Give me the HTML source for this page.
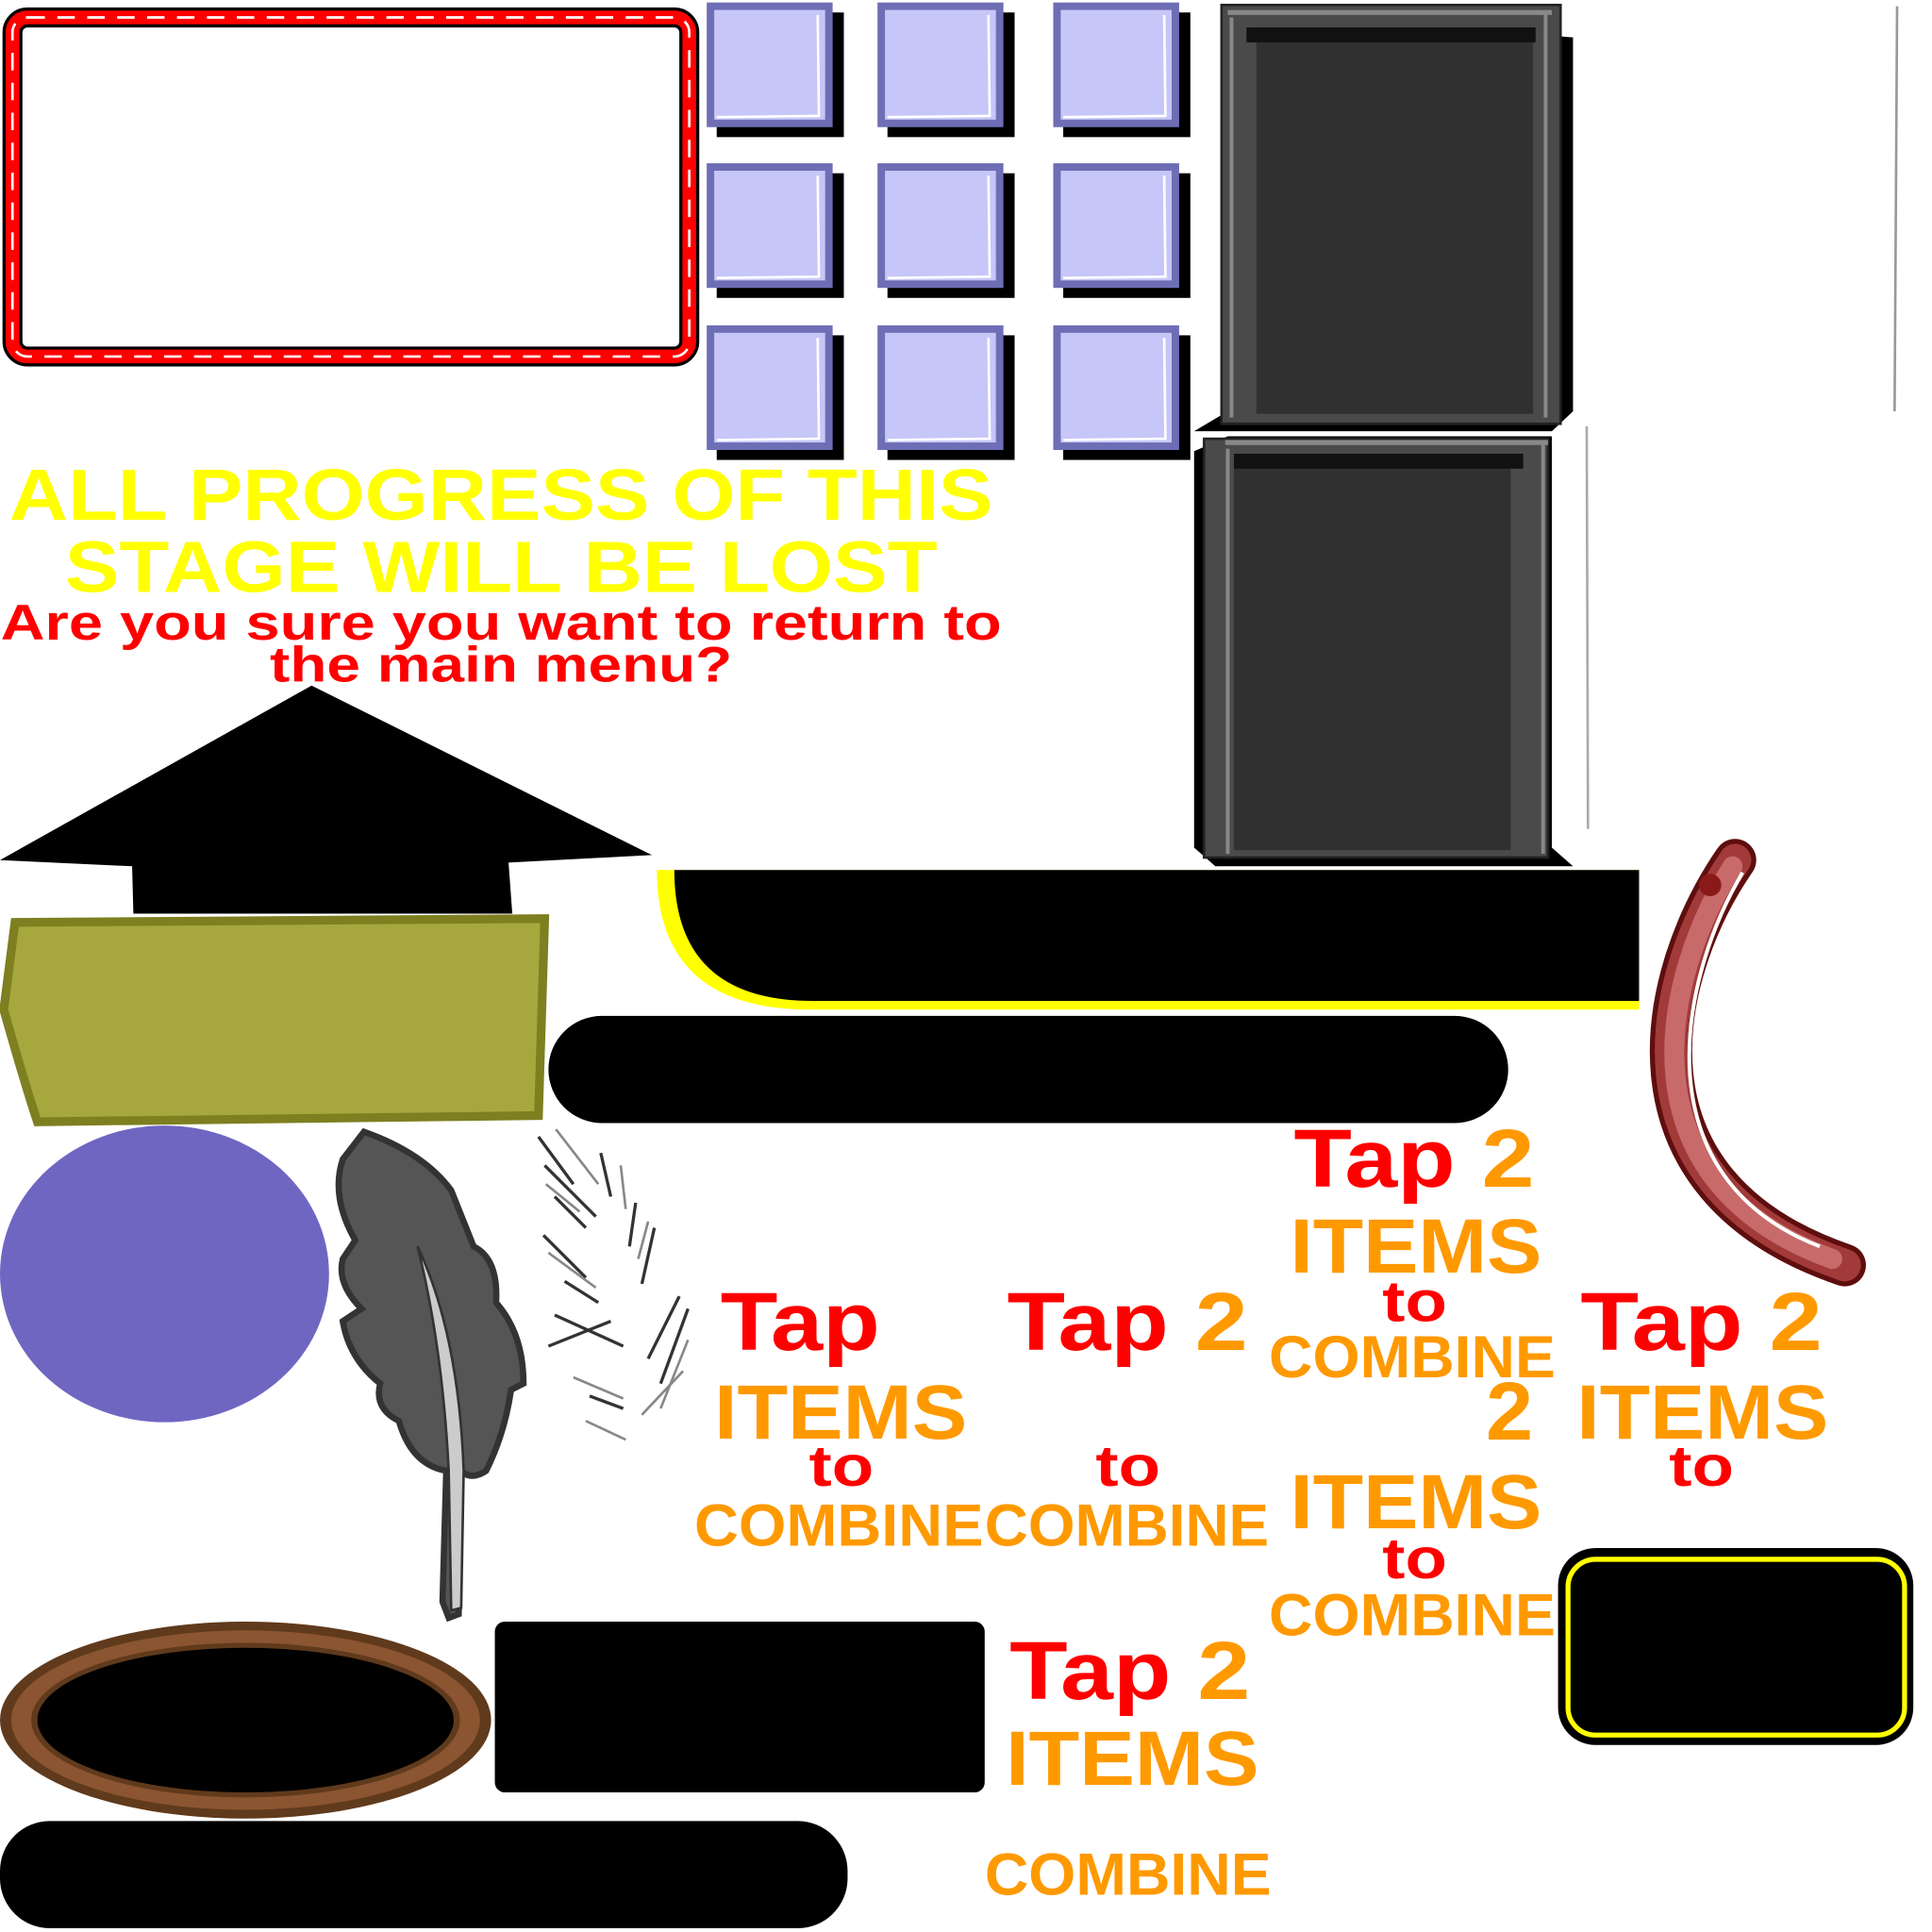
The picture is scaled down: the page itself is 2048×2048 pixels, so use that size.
<!DOCTYPE html>
<html><head><meta charset="utf-8"><style>
html,body{margin:0;padding:0;background:#fff;width:2048px;height:2048px;overflow:hidden}
svg{display:block}
text{font-family:"Liberation Sans",Arial,sans-serif;font-weight:bold}
</style></head><body>
<svg width="2048" height="2048" viewBox="0 0 1550 1550" xmlns="http://www.w3.org/2000/svg">
<defs>
<g id="sq">
<rect x="8" y="8" width="102" height="100" fill="#000"/>
<rect x="3" y="3" width="95" height="94" fill="#c6c6f8" stroke="#6e6eb6" stroke-width="6"/>
<polyline points="8,92 90,91 89,10" fill="none" stroke="#fff" stroke-width="2"/>
</g>
</defs>
<!-- rope frame -->
<rect x="10" y="14" width="543" height="272" rx="12" fill="none" stroke="#000" stroke-width="16"/>
<rect x="10" y="14" width="543" height="272" rx="12" fill="none" stroke="#ff0000" stroke-width="11"/>
<rect x="10" y="14" width="543" height="272" rx="12" fill="none" stroke="#fff" stroke-width="2" stroke-dasharray="14 10"/>
<!-- squares -->
<use href="#sq" x="567" y="2"/><use href="#sq" x="704" y="2"/><use href="#sq" x="845" y="2"/>
<use href="#sq" x="567" y="131"/><use href="#sq" x="704" y="131"/><use href="#sq" x="845" y="131"/>
<use href="#sq" x="567" y="261"/><use href="#sq" x="704" y="261"/><use href="#sq" x="845" y="261"/>
<!-- dark panels -->
<polygon points="985,8 1262,30 1262,330 1245,346 958,346 985,330" fill="#000"/>
<rect x="980" y="4" width="272" height="336" fill="#4a4a4a" stroke="#222" stroke-width="2"/>
<rect x="1008" y="22" width="222" height="310" fill="#303030"/>
<rect x="1000" y="22" width="232" height="12" fill="#111"/>
<line x1="988" y1="14" x2="988" y2="335" stroke="#888" stroke-width="3"/>
<line x1="1240" y1="10" x2="1240" y2="335" stroke="#888" stroke-width="3"/>
<line x1="985" y1="10" x2="1245" y2="10" stroke="#888" stroke-width="4"/>
<polygon points="958,362 985,350 1245,350 1245,680 1262,695 975,695 958,680" fill="#000"/>
<rect x="966" y="352" width="276" height="336" fill="#4a4a4a" stroke="#222" stroke-width="2"/>
<rect x="990" y="372" width="222" height="310" fill="#303030"/>
<rect x="990" y="364" width="232" height="12" fill="#111"/>
<line x1="985" y1="360" x2="985" y2="685" stroke="#888" stroke-width="3"/>
<line x1="1238" y1="356" x2="1238" y2="685" stroke="#888" stroke-width="3"/>
<line x1="983" y1="355" x2="1242" y2="355" stroke="#888" stroke-width="4"/>
<line x1="1522" y1="5" x2="1520" y2="330" stroke="#999" stroke-width="2"/>
<line x1="1273" y1="342" x2="1274" y2="665" stroke="#aaa" stroke-width="2"/>
<!-- headline -->
<text x="402" y="417" text-anchor="middle" font-size="58" fill="#ffff00" textLength="789" lengthAdjust="spacingAndGlyphs">ALL PROGRESS OF THIS</text>
<text x="402" y="475" text-anchor="middle" font-size="58" fill="#ffff00" textLength="700" lengthAdjust="spacingAndGlyphs">STAGE WILL BE LOST</text>
<text x="402" y="513" text-anchor="middle" font-size="40" fill="#ff0000" textLength="803" lengthAdjust="spacingAndGlyphs">Are you sure you want to return to</text>
<text x="402" y="547" text-anchor="middle" font-size="40" fill="#ff0000" textLength="371" lengthAdjust="spacingAndGlyphs">the main menu?</text>
<!-- arrow -->
<polygon points="0,690 250,550 523,686 408,692 411,733 107,733 106,695" fill="#000"/>
<!-- olive banner -->
<path d="M12,740 L437,737 L432,895 L30,900 Q20,870 3,810 Z" fill="#a6a83e" stroke="#7d7f20" stroke-width="7"/>
<!-- black with yellow -->
<path d="M527,698 L1315,698 L1315,810 L650,810 Q527,810 527,698 Z" fill="#ffff00"/>
<path d="M541,698 L1315,698 L1315,803 L652,803 Q541,803 541,698 Z" fill="#000"/>
<rect x="440" y="815" width="770" height="86" rx="43" fill="#000"/>
<!-- hook -->
<path d="M1392,690 C1330,780 1290,950 1480,1015" fill="none" stroke="#5e0e0e" stroke-width="34" stroke-linecap="round"/>
<path d="M1392,690 C1330,780 1290,950 1480,1015" fill="none" stroke="#a23a3a" stroke-width="26" stroke-linecap="round"/>
<path d="M1390,695 C1333,785 1298,948 1470,1010" fill="none" stroke="#c86a6a" stroke-width="16" stroke-linecap="round"/>
<path d="M1398,700 C1345,790 1318,945 1460,1000" fill="none" stroke="#fff" stroke-width="3"/>
<circle cx="1372" cy="710" r="9" fill="#8a1a1a"/>
<!-- purple ellipse -->
<ellipse cx="132" cy="1022" rx="132" ry="119" fill="#6f66c2"/>
<!-- feather -->
<path d="M292,908 Q340,925 362,955 Q370,975 380,1000 Q400,1010 398,1045 Q420,1070 420,1110 L410,1115 Q405,1150 390,1180 Q378,1188 370,1180 L368,1295 L360,1298 L355,1285 L358,1180 Q330,1175 320,1140 Q300,1130 305,1110 Q280,1090 275,1060 L290,1050 Q270,1030 275,1010 L285,995 Q265,960 275,930 Z" fill="#555" stroke="#333" stroke-width="5"/>
<path d="M335,1000 Q368,1070 372,1180 L370,1290 L362,1292 L360,1180 Q355,1080 335,1000 Z" fill="#ccc" stroke="#333" stroke-width="2"/>
<g stroke="#333" stroke-width="2.5" fill="none">
<path d="M432,912 L460,950"/><path d="M437,935 L478,976"/><path d="M445,960 L470,985"/><path d="M436,991 L470,1025"/>
<path d="M453,1028 L480,1045"/><path d="M445,1055 L500,1080"/><path d="M473,1120 L500,1130"/><path d="M440,1080 L490,1060"/>
<path d="M482,925 L490,960"/><path d="M510,965 L505,1000"/><path d="M525,985 L515,1030"/><path d="M545,1040 L520,1090"/><path d="M552,1050 L530,1110"/>
</g>
<g stroke="#888" stroke-width="2" fill="none">
<path d="M446,906 L480,950"/><path d="M438,950 L465,972"/><path d="M440,1005 L478,1033"/><path d="M460,1105 L500,1122"/>
<path d="M498,935 L502,970"/><path d="M520,980 L512,1010"/><path d="M552,1075 L530,1130"/><path d="M548,1100 L515,1135"/><path d="M470,1140 L502,1155"/>
</g>
<!-- text blocks -->
<g font-size="66">
<text x="578" y="1083" fill="#ff0000" textLength="128" lengthAdjust="spacingAndGlyphs">Tap</text>
<text x="808" y="1083" fill="#ff0000" textLength="193" lengthAdjust="spacingAndGlyphs">Tap <tspan fill="#ff9900">2</tspan></text>
<text x="1038" y="952" fill="#ff0000" textLength="193" lengthAdjust="spacingAndGlyphs">Tap <tspan fill="#ff9900">2</tspan></text>
<text x="1268" y="1083" fill="#ff0000" textLength="194" lengthAdjust="spacingAndGlyphs">Tap <tspan fill="#ff9900">2</tspan></text>
<text x="810" y="1363" fill="#ff0000" textLength="193" lengthAdjust="spacingAndGlyphs">Tap <tspan fill="#ff9900">2</tspan></text>
<text x="1192" y="1155" fill="#ff9900" textLength="38" lengthAdjust="spacingAndGlyphs">2</text>
</g>
<g font-size="62" fill="#ff9900">
<text x="573" y="1154" textLength="203" lengthAdjust="spacingAndGlyphs">ITEMS</text>
<text x="1035" y="1021" textLength="202" lengthAdjust="spacingAndGlyphs">ITEMS</text>
<text x="1035" y="1226" textLength="202" lengthAdjust="spacingAndGlyphs">ITEMS</text>
<text x="1265" y="1154" textLength="202" lengthAdjust="spacingAndGlyphs">ITEMS</text>
<text x="807" y="1432" textLength="203" lengthAdjust="spacingAndGlyphs">ITEMS</text>
</g>
<g font-size="46" fill="#ff0000" text-anchor="middle">
<text x="675" y="1192" textLength="52" lengthAdjust="spacingAndGlyphs">to</text><text x="905" y="1192" textLength="52" lengthAdjust="spacingAndGlyphs">to</text><text x="1135" y="1060" textLength="52" lengthAdjust="spacingAndGlyphs">to</text>
<text x="1135" y="1266" textLength="52" lengthAdjust="spacingAndGlyphs">to</text><text x="1365" y="1192" textLength="52" lengthAdjust="spacingAndGlyphs">to</text>
</g>
<g font-size="48" fill="#ff9900">
<text x="557" y="1240" textLength="232" lengthAdjust="spacingAndGlyphs">COMBINE</text>
<text x="790" y="1240" textLength="228" lengthAdjust="spacingAndGlyphs">COMBINE</text>
<text x="1018" y="1105" textLength="230" lengthAdjust="spacingAndGlyphs">COMBINE</text>
<text x="1018" y="1312" textLength="230" lengthAdjust="spacingAndGlyphs">COMBINE</text>
<text x="790" y="1520" textLength="230" lengthAdjust="spacingAndGlyphs">COMBINE</text>
</g>
<!-- bottom shapes -->
<ellipse cx="197" cy="1380" rx="197" ry="79" fill="#603a1c"/>
<ellipse cx="197" cy="1380" rx="188" ry="72" fill="#8a5530"/>
<ellipse cx="197" cy="1380" rx="172" ry="62" fill="#603a1c"/>
<ellipse cx="197" cy="1380" rx="167" ry="58" fill="#000"/>
<rect x="397" y="1301" width="393" height="137" rx="8" fill="#000"/>
<rect x="0" y="1461" width="680" height="86" rx="40" fill="#000"/>
<rect x="1250" y="1242" width="285" height="158" rx="30" fill="#000"/>
<rect x="1258" y="1251" width="270" height="141" rx="22" fill="none" stroke="#ffff00" stroke-width="4"/>
</svg>
</body></html>
